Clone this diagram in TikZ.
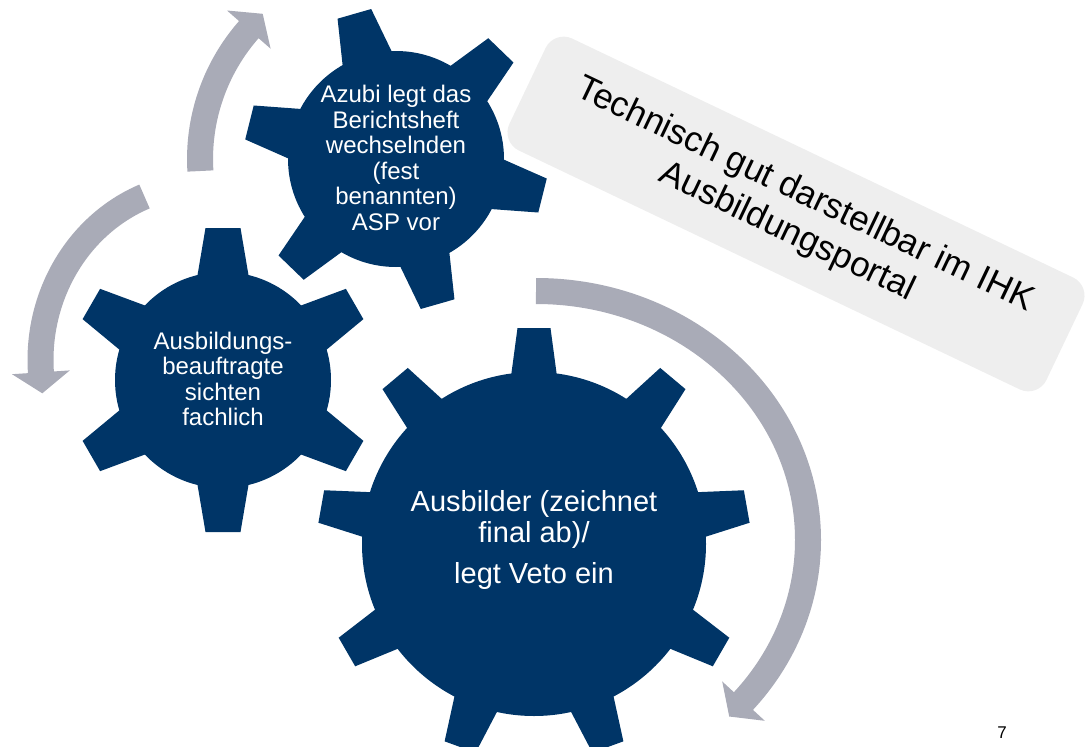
\documentclass[tikz,border=0pt]{standalone}
\usepackage{fontspec}
\setmainfont{Liberation Sans}
\definecolor{gearblue}{HTML}{003567}
\definecolor{arrowgray}{HTML}{A9ABB7}
\definecolor{boxgray}{HTML}{EEEEEE}
% #1 cx, #2 cy, #3 body radius, #4 outer radius, #5 root half width, #6 tip half width, #7 teeth, #8 first tooth angle
\newcommand\drawgear[8]{%
  \fill[gearblue] (#1,#2) circle[radius=#3];
  \foreach \k in {1,...,#7}{%
    \pgfmathsetmacro\gang{#8+360/#7*(\k-1)}
    \fill[gearblue, shift={(#1,#2)}, rotate=\gang] (#3-12,-#5) -- (#4,-#6) -- (#4,#6) -- (#3-12,#5) -- cycle;
  }}
\begin{document}
\begin{tikzpicture}[x=1pt,y=-1pt,
  arrowshaft/.style={draw=arrowgray, line width=26pt},
  arrowhead/.style={fill=arrowgray},
  geartext/.style={text=white, align=center, font=\fontsize{24}{25.5}\selectfont},
  bigtext/.style={text=white, align=center, font=\fontsize{29}{30.5}\selectfont},
  notebox/.style={fill=boxgray, rounded corners=20pt, rotate=-25.5, minimum width=595pt, minimum height=124pt, align=center, font=\fontsize{35}{41}\selectfont, inner sep=0pt}]
\useasboundingbox (0,0) rectangle (1090,747);
\clip (0,0) rectangle (1090,747);

% circular arrows
\draw[arrowshaft] (536,291) arc[start angle=-90, end angle=40.8, x radius=272, y radius=249];
\fill[arrowhead] (729.2,716.5) -- (764.8,720.8) -- (722.2,681.4) -- cycle;

\draw[arrowshaft] (144.5,196.5) arc[start angle=-111.7, end angle=-184.5, x radius=165, y radius=176];
\fill[arrowhead] (42.3,393.3) -- (69.8,370.4) -- (12.0,374.2) -- cycle;

\draw[arrowshaft] (200.4,171) arc[start angle=176.5, end angle=221.8, radius=196];
\fill[arrowhead] (262.7,13.8) -- (270.6,48.7) -- (227.0,10.5) -- cycle;

% gears
\drawgear{396}{159}{108}{151}{27}{17.5}{6}{106}
\drawgear{223}{380}{108}{152}{27}{17.5}{6}{30}
\drawgear{534}{544}{172}{216}{24}{16.5}{9}{90}

% texts
\node[geartext] (azubi) at (396,158) {Azubi legt das\\Berichtsheft\\wechselnden\\(fest\\benannten)\\ASP vor};
\node[geartext] (beauftragte) at (223,379) {Ausbildungs-\\beauftragte\\sichten\\fachlich};
\node[bigtext] (ausbilder) at (534,540) {Ausbilder (zeichnet\\final ab)/\\[11pt]legt Veto ein};

% note box
\node[notebox] (portal) at (796,214) {Technisch gut darstellbar im IHK\\Ausbildungsportal};

% page number
\node[anchor=north, inner sep=0pt, font=\fontsize{17}{20}\selectfont] (page) at (1002,727) {7};
\end{tikzpicture}
\end{document}
